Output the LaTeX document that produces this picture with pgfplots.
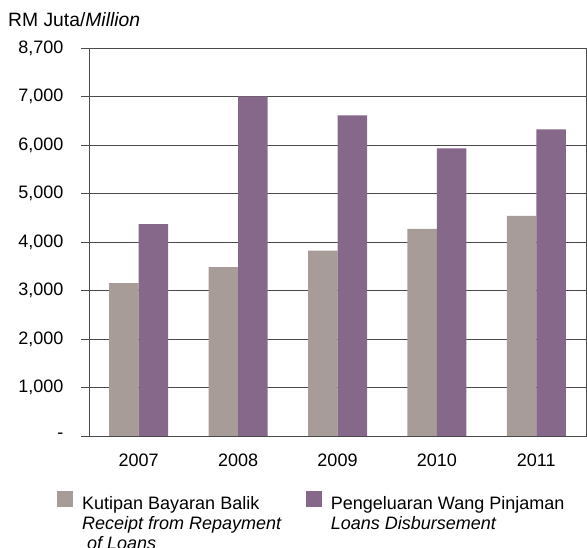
\documentclass[border=0pt]{standalone}
\usepackage{pgfplots}
\pgfplotsset{compat=1.18}
\usepackage{fontspec}
\setmainfont{Liberation Sans}
\definecolor{barGrey}{HTML}{A89C98}
\definecolor{barPurple}{HTML}{86698A}
\definecolor{gridc}{HTML}{4A4A4A}
\newcommand\cf{\fontsize{18bp}{20bp}\selectfont}
\begin{document}
\begin{tikzpicture}[x=1bp,y=1bp]
\useasboundingbox (0,0) rectangle (587,548);
\node[anchor=base west,inner sep=0pt,font=\fontsize{19.3bp}{22bp}\selectfont] at (8,521) {RM Juta/\textit{Million}};
\begin{axis}[
  at={(89bp,112bp)}, anchor=south west,
  scale only axis, width=497bp, height=388bp,
  xmin=-0.5, xmax=4.5, ymin=0, ymax=8000,
  ybar=0pt, bar width=29.5bp,
  axis line style={gridc, line width=0.9bp},
  xtick={0,1,2,3,4},
  xticklabels={2007,2008,2009,2010,2011},
  x tick style={draw=none},
  extra x ticks={-0.5,0.5,1.5,2.5,3.5},
  extra x tick labels={},
  extra x tick style={tick style={draw=gridc, line width=0.9bp}, major tick length=5bp},
  ytick={0,1000,2000,3000,4000,5000,6000,7000,8000},
  yticklabels={{-},{1,000},{2,000},{3,000},{4,000},{5,000},{6,000},{7,000},{8,700}},
  ymajorgrids, major grid style={gridc, line width=0.9bp},
  y tick style={gridc, line width=0.9bp},
  tick align=outside, major tick length=8bp,
  xtick pos=bottom, ytick pos=left,
  tick label style={font=\cf, text=black},
  yticklabel style={xshift=-14bp},
  xticklabel style={yshift=-6.5bp},
  legend columns=2,
  legend cell align=left,
  legend style={at={(-0.0644,-0.1418)}, anchor=north west, draw=none, fill=none, font=\cf,
    inner sep=0pt,
    nodes={inner sep=0pt, text height=14bp, text depth=6bp},
    /tikz/every odd column/.append style={column sep=9bp},
    /tikz/every even column/.append style={column sep=24bp}},
  legend image code/.code={\fill[#1] (0bp,-2bp) rectangle (16bp,14bp);},
]
\addplot[fill=barGrey, draw=none] coordinates {(0,3150) (1,3480) (2,3820) (3,4270) (4,4540)};
\addlegendentry{Kutipan Bayaran Balik}
\addplot[fill=barPurple, draw=none] coordinates {(0,4370) (1,7000) (2,6610) (3,5930) (4,6320)};
\addlegendentry{Pengeluaran Wang Pinjaman}
\addlegendimage{empty legend}
\addlegendentry{\textit{Receipt from Repayment}}
\addlegendimage{empty legend}
\addlegendentry{\textit{Loans Disbursement}}
\addlegendimage{empty legend}
\addlegendentry{\ \textit{of Loans}}
\end{axis}
\end{tikzpicture}
\end{document}
